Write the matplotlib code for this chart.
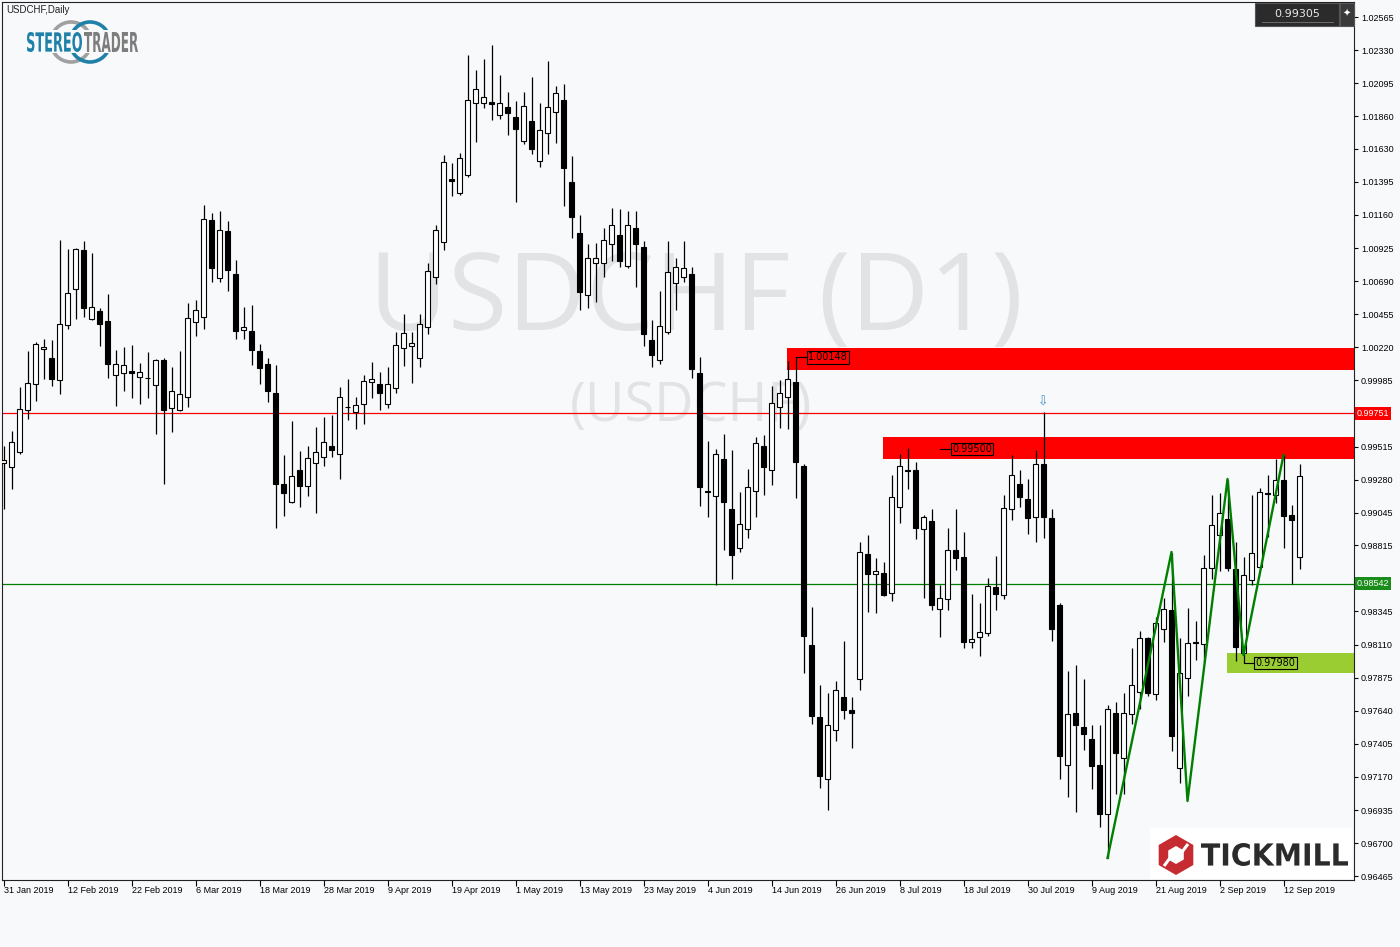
import numpy as np
import pandas as pd
import matplotlib
matplotlib.use("Agg")
import matplotlib.pyplot as plt
from matplotlib.patches import Rectangle, Circle, RegularPolygon, PathPatch
from matplotlib.textpath import TextPath
from matplotlib.font_manager import FontProperties
from matplotlib.transforms import Affine2D, blended_transform_factory

plt.rcParams['font.family'] = ['Liberation Sans', 'DejaVu Sans']

# daily USDCHF candles, 31 Jan 2019 .. 16 Sep 2019
opens = [
    0.99399, 0.99370, 0.99477, 0.99775, 0.99960, 1.00208, 1.00144, 0.99988, 1.00379, 1.00634,
    1.00911, 1.00421, 1.00478, 1.00407, 1.00024, 1.00038, 1.00052, 1.00009, 1.00002, 0.99953,
    1.00130, 0.99789, 0.99775, 0.99867, 1.00400, 1.00435, 1.01124, 1.00712, 1.01046, 1.00741,
    1.00343, 1.00336, 1.00194, 1.00102, 0.99896, 0.99249, 0.99122, 0.99349, 0.99235, 0.99399,
    0.99441, 0.99519, 0.99463, 0.99796, 0.99761, 0.99818, 0.99974, 0.99960, 0.99818, 0.99931,
    1.00215, 1.00229, 1.00144, 1.00364, 1.00719, 1.00968, 1.01415, 1.01316, 1.01444, 1.01955,
    1.01955, 1.01962, 1.01869, 1.01926, 1.01855, 1.01685, 1.01827, 1.01543, 1.01742, 1.01891,
    1.01976, 1.01394, 1.01032, 1.00592, 1.00819, 1.00819, 1.00954, 1.01018, 1.00797, 1.01067,
    1.00932, 1.00272, 1.00130, 1.00328, 1.00677, 1.00719, 1.00741, 1.00038, 0.99200, 0.99164,
    0.99427, 0.99072, 0.98795, 0.98930, 0.99200, 0.99519, 0.99349, 0.99796, 0.99867, 0.99974,
    0.99377, 0.98107, 0.97595, 0.97155, 0.97503, 0.97737, 0.97645, 0.97865, 0.98753, 0.98611,
    0.98618, 0.98476, 0.99086, 0.99349, 0.99349, 0.98930, 0.98987, 0.98362, 0.98433, 0.98781,
    0.98731, 0.98128, 0.98163, 0.98191, 0.98518, 0.98461, 0.99072, 0.99249, 0.99143, 0.99015,
    0.99392, 0.99008, 0.98390, 0.97254, 0.97624, 0.97524, 0.97439, 0.97254, 0.96909, 0.97624,
    0.97304, 0.97617, 0.97773, 0.98156, 0.97758, 0.98219, 0.98355, 0.97233, 0.97872, 0.98128,
    0.98114, 0.98653, 0.98888, 0.99001, 0.98646, 0.98050, 0.98568, 0.98660, 0.99186, 0.99171,
    0.99278, 0.99030, 0.98731,
]
highs = [
    0.99519, 0.99626, 0.99938, 1.00194, 1.00258, 1.00279, 1.00272, 1.00982, 1.00918, 1.00925,
    1.00975, 1.00890, 1.00499, 1.00599, 1.00201, 1.00222, 1.00237, 1.00109, 1.00187, 1.00137,
    1.00144, 1.00080, 1.00194, 1.00535, 1.00556, 1.01231, 1.01174, 1.01188, 1.01117, 1.00840,
    1.00506, 1.00521, 1.00244, 1.00144, 1.00094, 0.99455, 0.99697, 0.99484, 0.99519, 0.99654,
    0.99725, 0.99740, 0.99938, 0.99995, 0.99867, 1.00024, 1.00116, 1.00045, 1.00080, 1.00328,
    1.00457, 1.00328, 1.00457, 1.00819, 1.01089, 1.01586, 1.01529, 1.01600, 1.02295, 1.02189,
    1.02267, 1.02366, 1.02153, 1.02033, 1.01969, 1.02033, 1.02139, 1.01955, 1.02253, 1.02075,
    1.02090, 1.01578, 1.01159, 1.00954, 1.00961, 1.01067, 1.01209, 1.01202, 1.01188, 1.01188,
    1.00975, 1.00414, 1.00620, 1.00975, 1.00854, 1.00975, 1.00790, 1.00151, 0.99555, 0.99498,
    0.99605, 0.99491, 0.99193, 0.99356, 0.99583, 0.99597, 0.99945, 0.99988, 1.00123, 1.00151,
    0.99392, 0.98376, 0.97823, 0.97766, 0.97851, 0.98135, 0.97737, 0.98838, 0.98888, 0.98724,
    0.98696, 0.99314, 0.99463, 0.99505, 0.99406, 0.99030, 0.99072, 0.98533, 0.98937, 0.99072,
    0.98908, 0.98468, 0.98405, 0.98582, 0.98738, 0.99171, 0.99455, 0.99349, 0.99285, 0.99491,
    0.99761, 0.99072, 0.98405, 0.97922, 0.97964, 0.97865, 0.97539, 0.97539, 0.97681, 0.97702,
    0.97766, 0.98085, 0.98205, 0.98163, 0.98305, 0.98440, 0.98760, 0.98156, 0.98369, 0.98277,
    0.98746, 0.99171, 0.99186, 0.99278, 0.98838, 0.98731, 0.99171, 0.99221, 0.99314, 0.99427,
    0.99455, 0.99101, 0.99392,
]
lows = [
    0.99072, 0.99214, 0.99463, 0.99711, 0.99839, 0.99995, 0.99945, 0.99889, 1.00350, 1.00421,
    1.00435, 1.00414, 1.00229, 1.00002, 0.99803, 0.99910, 0.99860, 0.99818, 0.99860, 0.99605,
    0.99249, 0.99619, 0.99768, 0.99796, 1.00300, 1.00350, 1.00684, 1.00684, 1.00620, 1.00279,
    1.00279, 1.00094, 0.99960, 0.99832, 0.98937, 0.99022, 0.99115, 0.99086, 0.99164, 0.99044,
    0.99377, 0.99441, 0.99285, 0.99704, 0.99640, 0.99676, 0.99860, 0.99775, 0.99789, 0.99896,
    1.00087, 0.99967, 1.00080, 1.00315, 1.00670, 1.00911, 1.01294, 1.01302, 1.01429, 1.01678,
    1.01919, 1.01834, 1.01841, 1.01728, 1.01252, 1.01664, 1.01593, 1.01500, 1.01593, 1.01671,
    1.01224, 1.00997, 1.00485, 1.00499, 1.00542, 1.00719, 1.00833, 1.00790, 1.00783, 1.00649,
    1.00229, 1.00080, 1.00102, 1.00315, 1.00485, 1.00684, 1.00002, 0.99093, 0.99015, 0.98533,
    0.98781, 0.98575, 0.98767, 0.98866, 0.99015, 0.99171, 0.99242, 0.99647, 0.99640, 0.99150,
    0.97908, 0.97547, 0.97091, 0.96935, 0.97425, 0.97581, 0.97375, 0.97787, 0.98341, 0.98334,
    0.98454, 0.98419, 0.98973, 0.99214, 0.98859, 0.98440, 0.98355, 0.98163, 0.98355, 0.98639,
    0.98085, 0.98085, 0.98028, 0.98170, 0.98355, 0.98433, 0.98994, 0.99086, 0.98895, 0.98838,
    0.98866, 0.98135, 0.97155, 0.97027, 0.96921, 0.97361, 0.97084, 0.96814, 0.96594, 0.97048,
    0.97048, 0.97547, 0.97652, 0.97744, 0.97716, 0.98128, 0.97352, 0.97127, 0.97744, 0.98000,
    0.97986, 0.98575, 0.98632, 0.98632, 0.97990, 0.97980, 0.98533, 0.98646, 0.98873, 0.99115,
    0.98795, 0.98540, 0.98646,
]
closes = [
    0.99420, 0.99548, 0.99782, 0.99967, 1.00244, 1.00222, 0.99995, 1.00386, 1.00606, 1.00918,
    1.00499, 1.00506, 1.00386, 1.00102, 1.00102, 1.00094, 1.00038, 1.00045, 1.00000, 1.00130,
    0.99775, 0.99910, 0.99889, 1.00428, 1.00485, 1.01131, 1.00783, 1.01053, 1.00769, 1.00336,
    1.00364, 1.00201, 1.00073, 0.99910, 0.99249, 0.99186, 0.99306, 0.99235, 0.99434, 0.99477,
    0.99548, 0.99491, 0.99867, 0.99793, 0.99811, 0.99981, 0.99995, 0.99896, 0.99960, 1.00237,
    1.00322, 1.00251, 1.00386, 1.00762, 1.01053, 1.01536, 1.01401, 1.01564, 1.01976, 1.02054,
    1.01997, 1.01948, 1.01955, 1.01884, 1.01770, 1.01933, 1.01628, 1.01763, 1.01926, 1.02026,
    1.01493, 1.01145, 1.00613, 1.00854, 1.00854, 1.00982, 1.01089, 1.00833, 1.01089, 1.00954,
    1.00315, 1.00165, 1.00371, 1.00755, 1.00790, 1.00783, 1.00066, 0.99228, 0.99195, 0.99463,
    0.99122, 0.98746, 0.98966, 0.99228, 0.99541, 0.99370, 0.99825, 0.99896, 0.99995, 0.99406,
    0.98170, 0.97602, 0.97176, 0.97539, 0.97787, 0.97645, 0.97624, 0.98767, 0.98611, 0.98632,
    0.98461, 0.99157, 0.99377, 0.99345, 0.98937, 0.99015, 0.98390, 0.98440, 0.98781, 0.98724,
    0.98128, 0.98149, 0.98198, 0.98525, 0.98468, 0.99079, 0.99314, 0.99157, 0.99008, 0.99392,
    0.99015, 0.98219, 0.97318, 0.97617, 0.97539, 0.97475, 0.97247, 0.96909, 0.97652, 0.97339,
    0.97624, 0.97823, 0.98156, 0.97766, 0.98263, 0.98362, 0.97460, 0.97908, 0.98121, 0.98124,
    0.98653, 0.98958, 0.99044, 0.98653, 0.98093, 0.98604, 0.98760, 0.99193, 0.99181, 0.99278,
    0.99022, 0.98994, 0.99305,
]

price_ticks = [1.02565, 1.02330, 1.02095, 1.01860, 1.01630, 1.01395, 1.01160, 1.00925, 1.00690,
               1.00455, 1.00220, 0.99985, 0.99750, 0.99515, 0.99280, 0.99045, 0.98815, 0.98580,
               0.98345, 0.98110, 0.97875, 0.97640, 0.97405, 0.97170, 0.96935, 0.96700, 0.96465]
# labels hidden behind the coloured level tags
hidden_ticks = [0.99750, 0.98580]

# horizontal levels
resistance_line = 0.99751
support_line = 0.98542

# zones: start bar, low, high, colour
zone_start = [97.9, 109.9, 152.9]
zone_low = [1.00059, 0.99427, 0.97908]
zone_high = [1.00215, 0.99583, 0.98050]
zone_color = ['#ff0000', '#ff0000', '#9acd32']
zone_label = [1.00148, 0.99500, 0.97980]
label_from = [99, 117.06, 155.1]
label_at = [100.4, 118.4, 156.35]

# hand drawn zigzag
zz_bars = [138, 146, 148, 153, 155, 160]
zz_prices = [0.96594, 0.98767, 0.96999, 0.99285, 0.98035, 0.99456]

last_price = 0.99305
arrow_bar, arrow_price = 130, 0.99832

o = np.array(opens)
h = np.array(highs)
l = np.array(lows)
c = np.array(closes)
n = len(o)
x = np.arange(n)
dates = pd.bdate_range('2019-01-31', periods=n)
tick_idx = list(range(0, n, 8))
tick_labels = [f"{dates[i].day} {dates[i]:%b %Y}" for i in tick_idx]

bg = '#f8f9fb'
fig = plt.figure(figsize=(14, 9.47), dpi=100, facecolor=bg)
ax = fig.add_axes([2 / 1400, 67 / 947, 1352 / 1400, 878 / 947])
ax.set_facecolor(bg)
xmax = 168.81
ax.set_xlim(-0.1875, xmax)
ax.set_ylim(0.96438, 1.026718)

# watermark
ax.text(0.5135, 0.659, 'USDCHF (D1)', transform=ax.transAxes, ha='center', va='center',
        fontsize=78, color='#e2e3e4', family='Open Sans', zorder=0.5)
ax.text(0.5096, 0.539, '(USDCHF)', transform=ax.transAxes, ha='center', va='center',
        fontsize=39, color='#e2e3e4', family='Open Sans', zorder=0.5)

# zones
for xs, lo, hi, col in zip(zone_start, zone_low, zone_high, zone_color):
    ax.add_patch(Rectangle((xs, lo), xmax - xs, hi - lo, facecolor=col, edgecolor='none', zorder=1))

ax.axhline(resistance_line, color='#ff0000', lw=0.9, zorder=2)
ax.axhline(support_line, color='#008000', lw=0.9, zorder=2)

# candles
ax.vlines(x, l, h, color='black', lw=0.9, zorder=3)
body_h = np.maximum(np.abs(c - o), 0.00002)
cols = ['white' if cc > oo else 'black' for oo, cc in zip(o, c)]
ax.bar(x, body_h, bottom=np.minimum(o, c), width=0.62, color=cols, edgecolor='black',
       linewidth=0.8, zorder=4)

ax.plot(zz_bars, zz_prices, color='#008000', lw=1.7, zorder=5)

# zone labels
for v, x0, x1 in zip(zone_label, label_from, label_at):
    ax.plot([x0, x1], [v, v], color='black', lw=0.8, zorder=6)
    ax.text(x1 + 0.15, v, f"{v:.5f}", fontsize=7, va='center', ha='left', color='black',
            family='DejaVu Sans', zorder=6,
            bbox=dict(boxstyle='square,pad=0.12', facecolor='none', edgecolor='black', lw=0.8))

ax.text(arrow_bar, arrow_price, '\u21e9', ha='center', va='center', fontsize=9,
        color='#3d8fc4', family='DejaVu Sans', zorder=6)

# axes styling
for sp in ax.spines.values():
    sp.set_color('#222222')
    sp.set_linewidth(0.8)
ax.yaxis.tick_right()
ax.set_yticks(price_ticks)
ax.set_yticklabels(['' if v in hidden_ticks else f"{v:.5f}" for v in price_ticks])
ax.tick_params(axis='y', labelsize=6.5, length=3, width=0.8, pad=2, colors='black')
ax.set_xticks(tick_idx)
ax.set_xticklabels(tick_labels, ha='left')
ax.tick_params(axis='x', labelsize=6.5, length=4, width=0.8, pad=0.5, colors='black')

bt = blended_transform_factory(ax.transAxes, ax.transData)
ax.text(1.0 + 3 / 1352, resistance_line, f"{resistance_line:.5f}", transform=bt, ha='left',
        va='center', fontsize=6.5, color='white', zorder=7, clip_on=False,
        bbox=dict(boxstyle='square,pad=0.2', facecolor='#ff0000', edgecolor='none'))
ax.text(1.0 + 3 / 1352, support_line, f"{support_line:.5f}", transform=bt, ha='left',
        va='center', fontsize=6.5, color='white', zorder=7, clip_on=False,
        bbox=dict(boxstyle='square,pad=0.2', facecolor='#1a8c1a', edgecolor='none'))

# overlay in pixel coordinates for logos and header
ov = fig.add_axes([0, 0, 1, 1], zorder=10)
ov.set_xlim(0, 1400)
ov.set_ylim(947, 0)
ov.axis('off')
ov.patch.set_alpha(0)


def fit_text(axis, s, x0, x1, y0, y1, color):
    tp = TextPath((0, 0), s, size=10, prop=FontProperties(family='DejaVu Sans', weight='bold'))
    bb = tp.get_extents()
    tr = Affine2D().translate(-bb.x0, -bb.y0).scale((x1 - x0) / bb.width,
                                                    -(y1 - y0) / bb.height).translate(x0, y1)
    axis.add_patch(PathPatch(tr.transform_path(tp), facecolor=color, edgecolor='none'))


ov.text(6, 10, 'USDCHF,Daily', fontsize=7, va='center', ha='left', color='#222222')
ov.add_patch(Circle((71, 42), 20, fill=False, edgecolor='#a0a0a0', lw=2.6))
ov.add_patch(Circle((90, 42), 20, fill=False, edgecolor='#1f80a8', lw=2.6))
ov.add_patch(Rectangle((26, 30), 114, 23, facecolor=bg, edgecolor='none'))
fit_text(ov, 'STEREO', 27, 82, 32, 52, '#1f80a8')
fit_text(ov, 'TRADER', 84, 138, 32, 52, '#7d7d7d')

# last price box
ov.add_patch(Rectangle((1255, 3), 84, 23, facecolor='#2b2b2b', edgecolor='#555555', lw=0.8))
ov.plot([1262, 1333], [22, 22], color='#777777', lw=0.6)
ov.text(1297, 13.5, f"{last_price:.5f}", fontsize=8, color='#e8e8e8', ha='center', va='center',
        family='DejaVu Sans')
ov.add_patch(Rectangle((1340, 3), 14, 23, facecolor='#3a3a3a', edgecolor='#555555', lw=0.8))
ov.text(1347, 14, '\u2726', fontsize=7, color='white', ha='center', va='center',
        family='DejaVu Sans')

# Tickmill logo
ov.add_patch(Rectangle((1150, 828), 202, 51, facecolor='white', edgecolor='none'))
ov.add_patch(RegularPolygon((1176, 855), 6, radius=20, facecolor='#c62b32', edgecolor='none'))
ov.add_patch(RegularPolygon((1176, 855), 6, radius=9, facecolor='white', edgecolor='none'))
ov.plot([1164, 1170], [866, 858], color='white', lw=2.2, solid_capstyle='butt')
ov.plot([1182, 1188], [852, 844], color='white', lw=2.2, solid_capstyle='butt')
fit_text(ov, 'TICKMILL', 1201, 1348, 843, 866, '#2b2b2b')

fig.savefig('out.png', dpi=100, facecolor=bg)
